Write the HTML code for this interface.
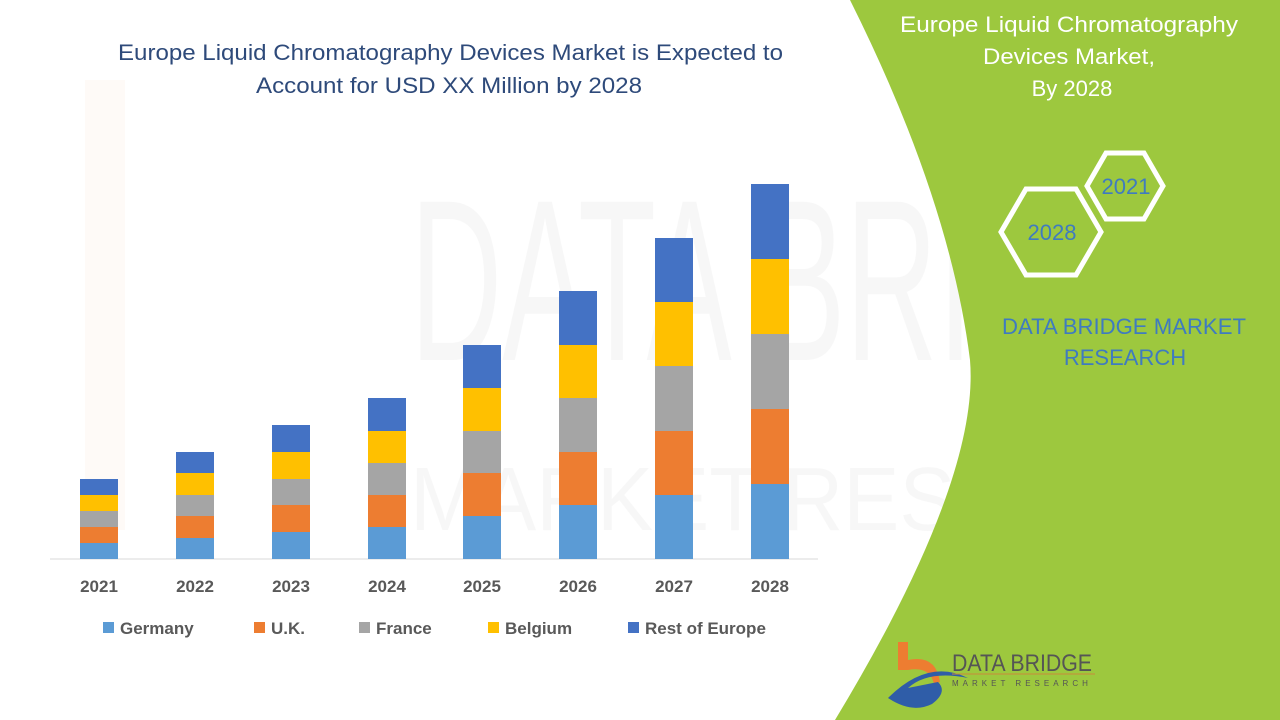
<!DOCTYPE html>
<html><head><meta charset="utf-8"><style>
html,body{margin:0;padding:0;background:#fff}
svg{display:block}
text{font-family:"Liberation Sans",sans-serif}
</style></head><body>
<svg width="1280" height="720" viewBox="0 0 1280 720" xmlns="http://www.w3.org/2000/svg">
<rect width="1280" height="720" fill="#fff"/>
<g opacity="0.04">
<text x="410" y="360" font-size="230" fill="#555" textLength="840" lengthAdjust="spacingAndGlyphs">DATA BRIDGE</text>
<text x="410" y="530" font-size="90" fill="#555" textLength="840" lengthAdjust="spacingAndGlyphs">MARKET RESEARCH</text>
<rect x="85" y="80" width="40" height="450" fill="#ED7D31"/>
</g>
<path d="M850 0 L1280 0 L1280 720 L835 720 Q980 480 970 360 Q950 200 850 0 Z" fill="#9DC83E"/>
<text x="900" y="32" font-size="22" fill="#fff" textLength="338" lengthAdjust="spacingAndGlyphs">Europe Liquid Chromatography</text>
<text x="983" y="64" font-size="22" fill="#fff" textLength="172" lengthAdjust="spacingAndGlyphs">Devices Market,</text>
<text x="1072" y="96" font-size="22" fill="#fff" text-anchor="middle">By 2028</text>
<polygon points="1087,186 1106,153 1144,153 1163,186 1144,219 1106,219" fill="none" stroke="#fff" stroke-width="5"/>
<text x="1126" y="194" font-size="22" fill="#3F7BC0" text-anchor="middle">2021</text>
<polygon points="1001,232 1026,189 1076,189 1101,232 1076,275 1026,275" fill="none" stroke="#fff" stroke-width="5"/>
<text x="1052" y="240" font-size="22" fill="#3F7BC0" text-anchor="middle">2028</text>
<text x="1002" y="334" font-size="22" fill="#3F7BC0" textLength="244" lengthAdjust="spacingAndGlyphs">DATA BRIDGE MARKET</text>
<text x="1125" y="365" font-size="22" fill="#3F7BC0" text-anchor="middle">RESEARCH</text>
<path d="M898 642 h10 v18 q28 -6 32 22 l-6 2 q-4 -18 -26 -14 v0 h-10 z" fill="#ED7D31"/>
<path d="M888 698 q40 -40 80 -20 q-40 -8 -60 10 q20 -4 30 -6 q10 10 -6 22 q-20 10 -44 -6 z" fill="#2F5DA8"/>
<text x="952" y="671" font-size="24" fill="#555" textLength="140" lengthAdjust="spacingAndGlyphs">DATA BRIDGE</text>
<line x1="952" y1="674" x2="1095" y2="674" stroke="#C98A3A" stroke-width="1"/>
<text x="952" y="686" font-size="8" fill="#555" letter-spacing="4">MARKET RESEARCH</text>
<text x="118" y="60" font-size="22" fill="#2E4A7A" textLength="665" lengthAdjust="spacingAndGlyphs">Europe Liquid Chromatography Devices Market is Expected to</text>
<text x="256" y="93" font-size="22" fill="#2E4A7A" textLength="386" lengthAdjust="spacingAndGlyphs">Account for USD XX Million by 2028</text>
<line x1="50" y1="559" x2="818" y2="559" stroke="#D9D9D9" stroke-width="1"/>
<g font-size="17" font-weight="bold" fill="#595959" text-anchor="middle">
<text x="99" y="592">2021</text><text x="195" y="592">2022</text><text x="291" y="592">2023</text><text x="387" y="592">2024</text>
<text x="482" y="592">2025</text><text x="578" y="592">2026</text><text x="674" y="592">2027</text><text x="770" y="592">2028</text>
</g>
<g font-size="17" font-weight="bold" fill="#595959">
<rect x="103" y="622" width="11" height="11" fill="#5B9BD5"/><text x="120" y="634">Germany</text>
<rect x="254" y="622" width="11" height="11" fill="#ED7D31"/><text x="271" y="634">U.K.</text>
<rect x="359" y="622" width="11" height="11" fill="#A5A5A5"/><text x="376" y="634">France</text>
<rect x="488" y="622" width="11" height="11" fill="#FFC000"/><text x="505" y="634">Belgium</text>
<rect x="628" y="622" width="11" height="11" fill="#4472C4"/><text x="645" y="634">Rest of Europe</text>
</g>
<g>
<rect x="80" y="543" width="38" height="16" fill="#5B9BD5"/><rect x="80" y="527" width="38" height="16" fill="#ED7D31"/><rect x="80" y="511" width="38" height="16" fill="#A5A5A5"/><rect x="80" y="495" width="38" height="16" fill="#FFC000"/><rect x="80" y="479" width="38" height="16" fill="#4472C4"/>
<rect x="176" y="538" width="38" height="21" fill="#5B9BD5"/><rect x="176" y="516" width="38" height="22" fill="#ED7D31"/><rect x="176" y="495" width="38" height="21" fill="#A5A5A5"/><rect x="176" y="473" width="38" height="22" fill="#FFC000"/><rect x="176" y="452" width="38" height="21" fill="#4472C4"/>
<rect x="272" y="532" width="38" height="27" fill="#5B9BD5"/><rect x="272" y="505" width="38" height="27" fill="#ED7D31"/><rect x="272" y="479" width="38" height="26" fill="#A5A5A5"/><rect x="272" y="452" width="38" height="27" fill="#FFC000"/><rect x="272" y="425" width="38" height="27" fill="#4472C4"/>
<rect x="368" y="527" width="38" height="32" fill="#5B9BD5"/><rect x="368" y="495" width="38" height="32" fill="#ED7D31"/><rect x="368" y="463" width="38" height="32" fill="#A5A5A5"/><rect x="368" y="431" width="38" height="32" fill="#FFC000"/><rect x="368" y="398" width="38" height="33" fill="#4472C4"/>
<rect x="463" y="516" width="38" height="43" fill="#5B9BD5"/><rect x="463" y="473" width="38" height="43" fill="#ED7D31"/><rect x="463" y="431" width="38" height="42" fill="#A5A5A5"/><rect x="463" y="388" width="38" height="43" fill="#FFC000"/><rect x="463" y="345" width="38" height="43" fill="#4472C4"/>
<rect x="559" y="505" width="38" height="54" fill="#5B9BD5"/><rect x="559" y="452" width="38" height="53" fill="#ED7D31"/><rect x="559" y="398" width="38" height="54" fill="#A5A5A5"/><rect x="559" y="345" width="38" height="53" fill="#FFC000"/><rect x="559" y="291" width="38" height="54" fill="#4472C4"/>
<rect x="655" y="495" width="38" height="64" fill="#5B9BD5"/><rect x="655" y="431" width="38" height="64" fill="#ED7D31"/><rect x="655" y="366" width="38" height="65" fill="#A5A5A5"/><rect x="655" y="302" width="38" height="64" fill="#FFC000"/><rect x="655" y="238" width="38" height="64" fill="#4472C4"/>
<rect x="751" y="484" width="38" height="75" fill="#5B9BD5"/><rect x="751" y="409" width="38" height="75" fill="#ED7D31"/><rect x="751" y="334" width="38" height="75" fill="#A5A5A5"/><rect x="751" y="259" width="38" height="75" fill="#FFC000"/><rect x="751" y="184" width="38" height="75" fill="#4472C4"/>
</g>
</svg>
</body></html>
